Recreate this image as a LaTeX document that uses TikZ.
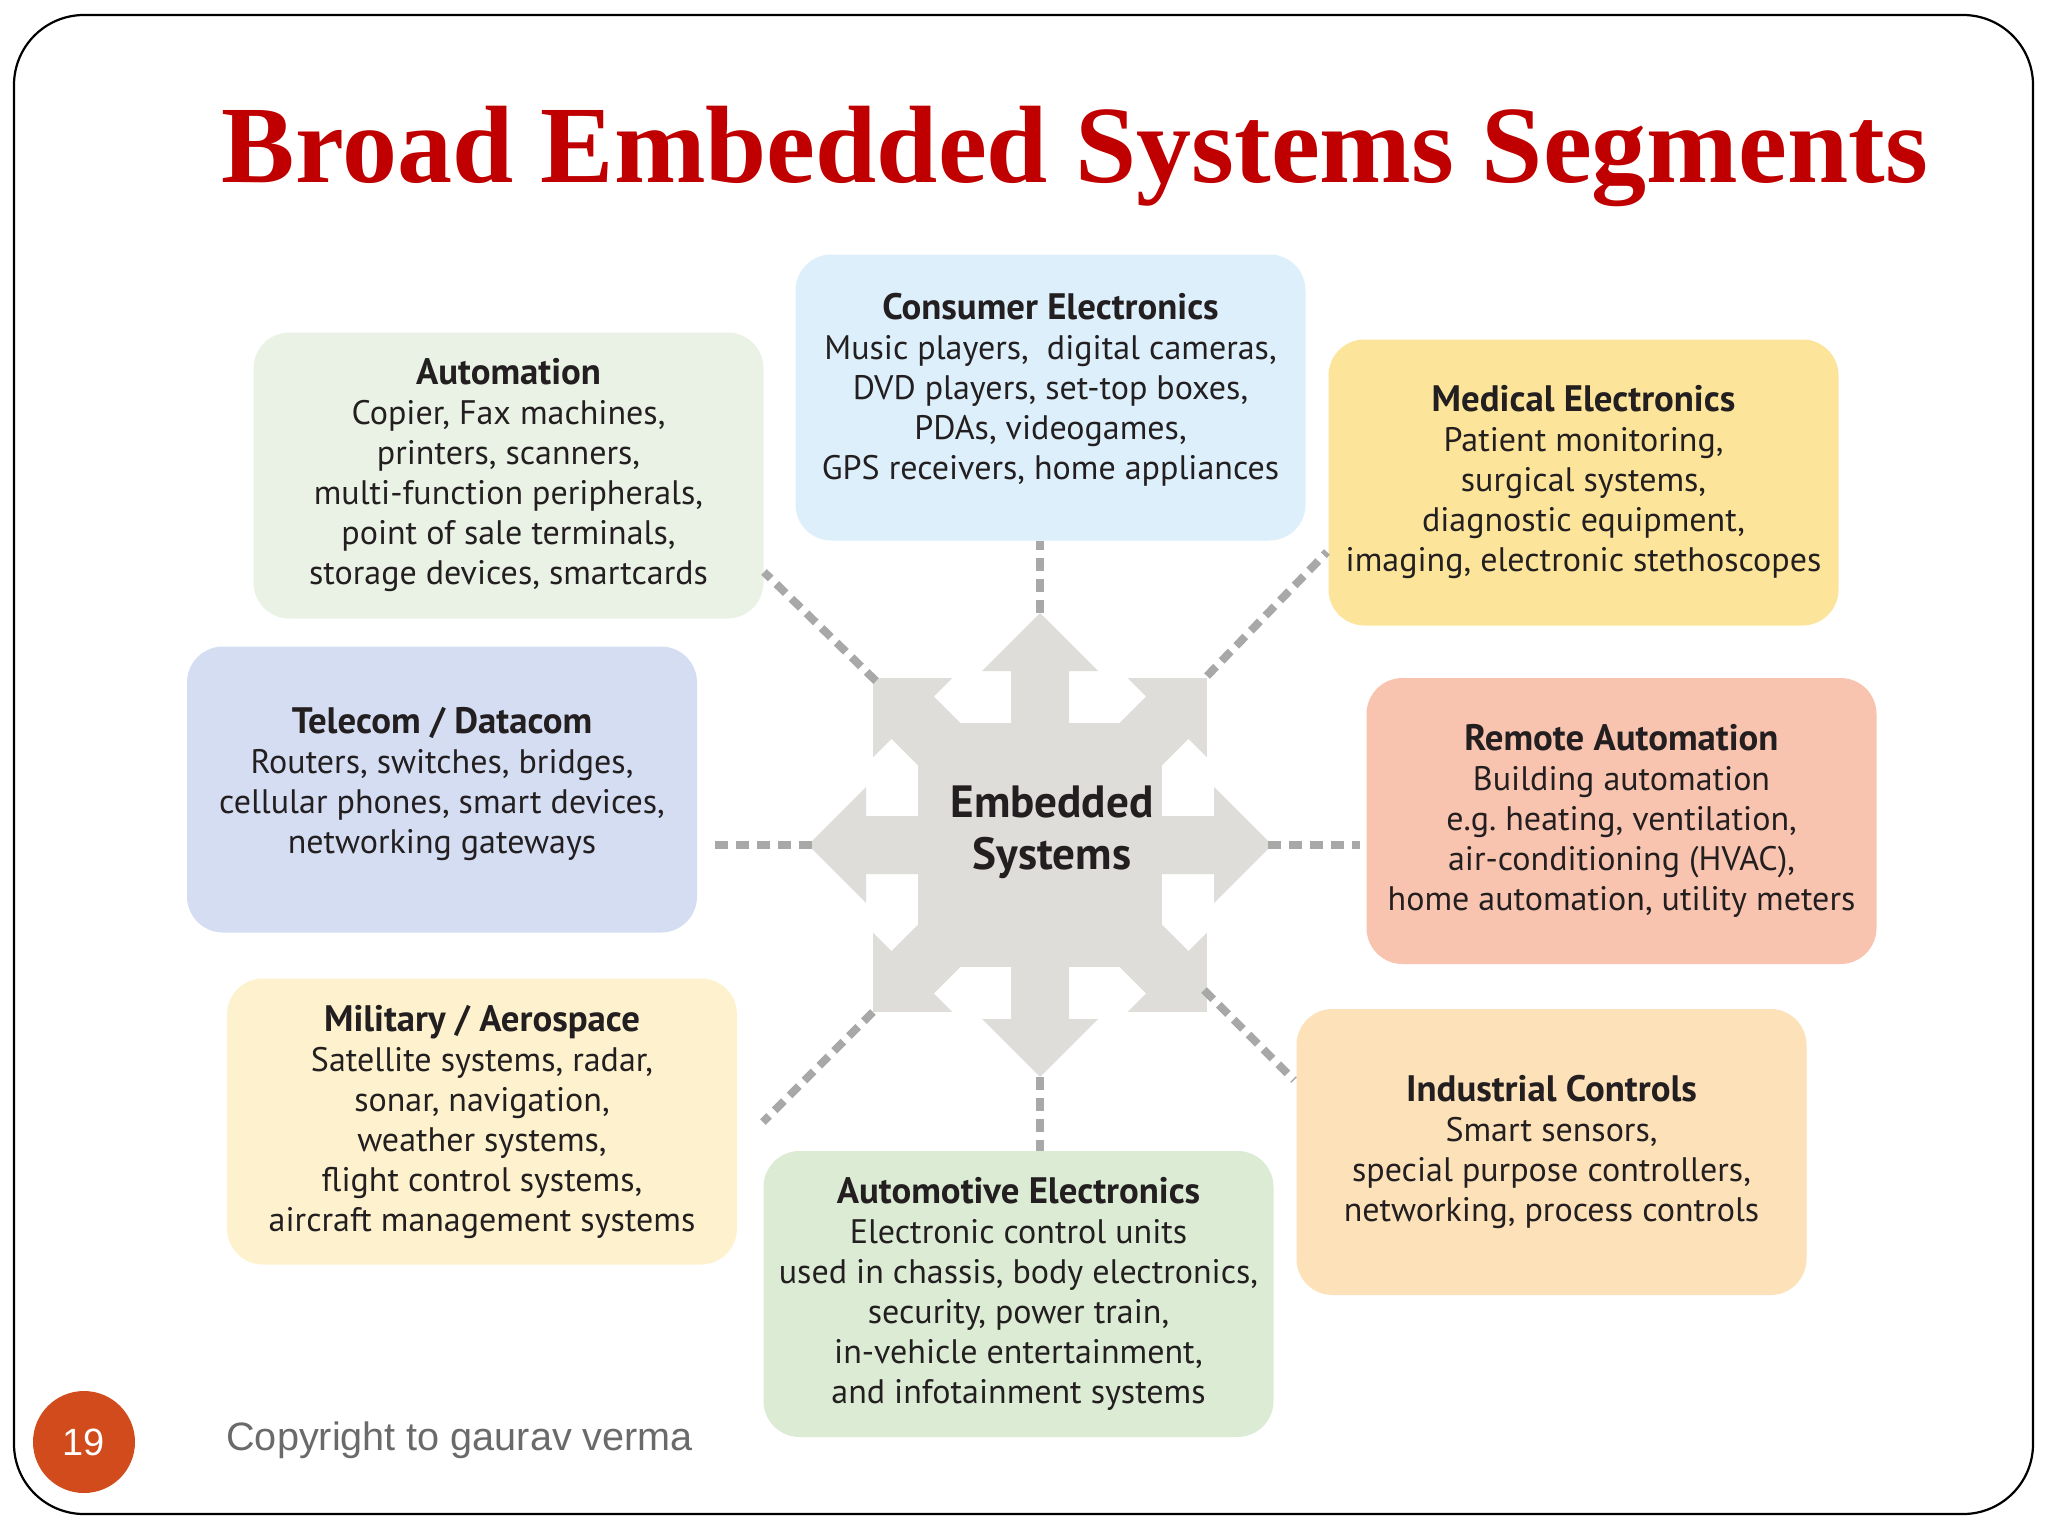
\documentclass[tikz,border=0pt]{standalone}
\usepackage{fontspec}
\setmainfont{PT Sans}
\newfontfamily\titlefont{Liberation Serif}
\newfontfamily\arialfont{Liberation Sans}
\usetikzlibrary{calc}
\definecolor{titlered}{HTML}{C00000}
\definecolor{txt}{HTML}{231F20}
\definecolor{cAuto}{HTML}{EAF2E5}
\definecolor{cCons}{HTML}{DDEFFB}
\definecolor{cMed}{HTML}{FCE59B}
\definecolor{cTel}{HTML}{D5DDF2}
\definecolor{cRem}{HTML}{F9C4AF}
\definecolor{cMil}{HTML}{FEF2CE}
\definecolor{cInd}{HTML}{FDE1B9}
\definecolor{cAut}{HTML}{DCEBD3}
\definecolor{starc}{HTML}{DFDDDA}
\definecolor{dashc}{HTML}{A8A8A8}
\definecolor{pagec}{HTML}{D24B1C}
\definecolor{copyc}{HTML}{6A6A6A}
\newcommand{\hd}[1]{{\bfseries\fontsize{18.4pt}{20pt}\selectfont #1}}
\begin{document}
\begin{tikzpicture}[x=0.5pt,y=-0.5pt,
  segbox/.style={rounded corners=18pt, minimum width=255pt, minimum height=143pt,
    align=center, inner sep=0pt, text=txt,
    font=\fontsize{17pt}{20pt}\selectfont},
  conn/.style={draw=dashc, line width=4pt, dash pattern=on 6.5pt off 4pt},
  starpart/.style={fill=starc, draw=none}]
\useasboundingbox (0,0) rectangle (2048,1536);
\fill[white] (0,0) rectangle (2048,1536);
\draw[line width=1.1pt, rounded corners=35pt] (14,15) rectangle (2033,1514);

% title
\node[anchor=base, text=titlered, font=\titlefont\bfseries\fontsize{55pt}{60pt}\selectfont, inner sep=0pt]
  (title) at (1075,182) {Broad Embedded Systems Segments};

% segment boxes
\node[segbox, fill=cAuto] (autom) at (508.5,475.5)
  {\hd{Automation}\\Copier, Fax machines,\\printers, scanners,\\multi-function peripherals,\\point of sale terminals,\\storage devices, smartcards};
\node[segbox, fill=cCons, text depth=11pt] (cons) at (1050.5,397.5)
  {\hd{Consumer Electronics}\\Music players,\ \ digital cameras,\\DVD players, set-top boxes,\\PDAs, videogames,\\GPS receivers, home appliances};
\node[segbox, fill=cMed] (med) at (1583.5,482.5)
  {\hd{Medical Electronics}\\Patient monitoring,\\surgical systems,\\diagnostic equipment,\\imaging, electronic stethoscopes};
\node[segbox, fill=cTel, text depth=9pt] (tel) at (442,789.5)
  {\hd{Telecom / Datacom}\\Routers, switches, bridges,\\cellular phones, smart devices,\\networking gateways};
\node[segbox, fill=cRem] (rem) at (1621.5,821)
  {\hd{Remote Automation}\\Building automation\\e.g.\ heating, ventilation,\\air-conditioning (HVAC),\\home automation, utility meters};
\node[segbox, fill=cMil] (mil) at (482,1121.5)
  {\hd{Military / Aerospace}\\Satellite systems, radar,\\sonar, navigation,\\weather systems,\\flight control systems,\\aircraft management systems};
\node[segbox, fill=cInd] (ind) at (1551.5,1152)
  {\hd{Industrial Controls}\\Smart sensors,\\special purpose controllers,\\networking, process controls};
\node[segbox, fill=cAut] (autoe) at (1018.5,1294)
  {\hd{Automotive Electronics}\\Electronic control units\\used in chassis, body electronics,\\security, power train,\\in-vehicle entertainment,\\and infotainment systems};

% central star
\begin{scope}[shift={(1040,845)}]
  \fill[starpart] (-122,-122) rectangle (122,122);
  \foreach \a in {0,90,180,270}{
    \fill[starpart, rotate=\a] (-29,0) -- (-29,-174) -- (-58,-174) -- (0,-232) -- (58,-174) -- (29,-174) -- (29,0) -- cycle;
  }
  \foreach \a in {45,135,225,315}{
    \fill[starpart, rotate=\a] (-30,0) -- (-30,-180) -- (-56,-180) -- (0,-236) -- (56,-180) -- (30,-180) -- (30,0) -- cycle;
  }
  \coordinate (sN) at (0,-232);
  \coordinate (sS) at (0,232);
  \coordinate (sW) at (-228,0);
  \coordinate (sE) at (228,0);
  \coordinate (sNE) at (167,-169);
  \coordinate (sNW) at (-164,-164);
  \coordinate (sSW) at (-167,167);
  \coordinate (sSE) at (164,145);
\end{scope}
\node[align=center, text=txt, font=\bfseries\fontsize{22.6pt}{26pt}\selectfont, inner sep=0pt]
  (es) at (1052,832) {Embedded\\Systems};

% free ends of the diagonal connectors
\coordinate (eNE) at (1327,552);
\coordinate (eNW) at (764,572);
\coordinate (eSW) at (763,1122);
\coordinate (eSE) at (1294,1080);

% connectors
\draw[conn] (sN) -- (sN |- cons.south);
\draw[conn] (sS) -- (sS |- autoe.north);
\draw[conn, shorten >=9pt] (sW) -- (sW -| tel.east);
\draw[conn, shorten >=3pt] (sE) -- (sE -| rem.west);
\draw[conn] (sNE) -- (eNE);
\draw[conn] (sNW) -- (eNW);
\draw[conn] (sSW) -- (eSW);
\draw[conn] (sSE) -- (eSE);

% footer
\node[circle, fill=pagec, minimum size=51pt, inner sep=0pt, text=white,
  font=\arialfont\fontsize{19pt}{22pt}\selectfont] (pg) at (84,1442) {19};
\node[anchor=base west, inner sep=0pt, text=copyc, font=\arialfont\fontsize{19.8pt}{24pt}\selectfont]
  (copy) at (226,1450) {Copyright to gaurav verma};
\end{tikzpicture}
\end{document}
